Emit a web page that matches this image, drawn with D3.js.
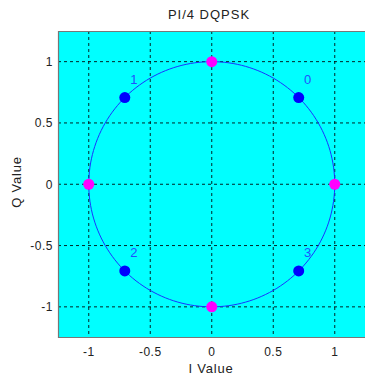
<!DOCTYPE html>
<html><head><meta charset="utf-8">
<script src="https://cdn.jsdelivr.net/npm/d3@7"></script>
<style>body{margin:0;background:#fff;} svg{display:block;font-family:"Liberation Sans",Arial,sans-serif;}</style>
</head><body>
<script>
const title = "PI/4 DQPSK";
const xLabel = "I Value";
const yLabel = "Q Value";
const ticks = [-1, -0.5, 0, 0.5, 1];
const tickLabels = ["-1", "-0.5", "0", "0.5", "1"];
const domain = [-1.25, 1.25];
// Blue constellation (odd symbols)
const blueI = [0.707, -0.707, -0.707, 0.707];
const blueQ = [0.707, 0.707, -0.707, -0.707];
const blueLabels = ["0", "1", "2", "3"];
// Magenta constellation (even symbols)
const magI = [1, 0, -1, 0];
const magQ = [0, 1, 0, -1];

const W = 365, H = 384;
const svg = d3.select("body").append("svg").attr("width", W).attr("height", H);
const x = d3.scaleLinear().domain(domain).range([58, 365.5]);
const y = d3.scaleLinear().domain(domain).range([337.5, 31]);

svg.append("rect").attr("x", 58).attr("y", 31).attr("width", 307.5).attr("height", 306.5)
  .attr("fill", "#00ffff");

const g = svg.append("g");
ticks.forEach(t => {
  g.append("line").attr("x1", x(t)).attr("x2", x(t)).attr("y1", 31).attr("y2", 337.5)
    .attr("stroke", "#000").attr("stroke-width", 1).attr("stroke-dasharray", "3,3").attr("opacity", 0.85);
  g.append("line").attr("y1", y(t)).attr("y2", y(t)).attr("x1", 58).attr("x2", 365)
    .attr("stroke", "#000").attr("stroke-width", 1).attr("stroke-dasharray", "3,3").attr("opacity", 0.85);
});

// border
svg.append("path").attr("d", `M365.5,31.5H58.5V337.5H365.5`).attr("fill", "none")
  .attr("stroke", "#777").attr("stroke-width", 1.2);

// unit circle
const angles = d3.range(0, 361, 2).map(a => a * Math.PI / 180);
svg.append("path").datum(angles)
  .attr("d", d3.line().x(a => x(Math.cos(a))).y(a => y(Math.sin(a))).curve(d3.curveLinear))
  .attr("fill", "none").attr("stroke", "#1a33ff").attr("stroke-width", 1);

svg.selectAll(".bd").data(blueI).enter().append("circle")
  .attr("cx", (d, i) => x(d)).attr("cy", (d, i) => y(blueQ[i])).attr("r", 5.5).attr("fill", "#0000ff");
svg.selectAll(".bl").data(blueLabels).enter().append("text")
  .attr("x", (d, i) => x(blueI[i]) + 9).attr("y", (d, i) => y(blueQ[i]) - 14)
  .attr("text-anchor", "middle").attr("font-size", 13).attr("fill", "#2050ff").text(d => d);
svg.selectAll(".md").data(magI).enter().append("circle")
  .attr("cx", (d, i) => x(d)).attr("cy", (d, i) => y(magQ[i])).attr("r", 5.5).attr("fill", "#ff00ff");

// tick labels
svg.selectAll(".xt").data(ticks).enter().append("text")
  .attr("x", d => x(d)).attr("y", 356).attr("text-anchor", "middle").attr("letter-spacing", 0.5)
  .attr("font-size", 12).attr("fill", "#222").text((d, i) => tickLabels[i]);
svg.selectAll(".yt").data(ticks).enter().append("text")
  .attr("x", 53).attr("y", d => y(d) + 4.5).attr("text-anchor", "end").attr("letter-spacing", 0.5)
  .attr("font-size", 12).attr("fill", "#222").text((d, i) => tickLabels[i]);

svg.append("text").attr("x", 209).attr("y", 18.5).attr("text-anchor", "middle").attr("letter-spacing", 1)
  .attr("font-size", 13).attr("fill", "#222").text(title);
svg.append("text").attr("x", 211).attr("y", 373).attr("text-anchor", "middle").attr("letter-spacing", 0.8)
  .attr("font-size", 13).attr("fill", "#222").text(xLabel);
svg.append("text").attr("transform", "translate(21,182) rotate(-90)").attr("text-anchor", "middle")
  .attr("letter-spacing", 0.8)
  .attr("font-size", 13).attr("fill", "#222").text(yLabel);
</script>
</body></html>
